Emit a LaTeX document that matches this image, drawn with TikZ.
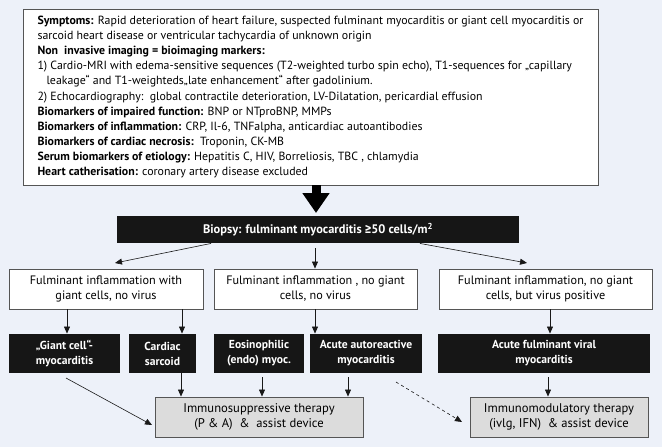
\documentclass[tikz,border=0pt]{standalone}
\usepackage{fontspec}
\setmainfont{PT Sans}
\newfontfamily\symf{Fira Sans}
\usetikzlibrary{arrows.meta}
\definecolor{bg}{RGB}{237,241,249}
\definecolor{bord}{RGB}{85,85,85}
\definecolor{boxgray}{RGB}{220,220,220}
\definecolor{nearblack}{RGB}{22,22,22}
\begin{document}
\begin{tikzpicture}[x=1pt,y=-1pt,
  base/.style={rectangle, inner sep=0pt, align=center, line width=0.9pt},
  info/.style={base, draw=bord, fill=white, font=\fontsize{12.2}{15}\selectfont},
  blk/.style={base, fill=nearblack, text=white, font=\fontsize{11.6}{15}\selectfont\bfseries},
  gbox/.style={base, draw=bord, fill=boxgray, font=\fontsize{12.6}{15.5}\selectfont},
  arr/.style={-{Triangle[length=7pt,width=6pt]}, line width=0.6pt, draw=black!90},
  darr/.style={arr, dash pattern=on 3pt off 3pt},
  bigarr/.style={line width=9pt, -{Triangle[length=20pt,width=26pt]}, draw=black}
]
\fill[bg] (0,0) rectangle (662,447);
\useasboundingbox (0,0) rectangle (662,447);

\node[info, minimum width=575, minimum height=176, align=left, font=\fontsize{11.85}{15.1}\selectfont] (top) at (310.5,97) {%
\textbf{Symptoms:} Rapid deterioration of heart failure, suspected fulminant myocarditis or giant cell myocarditis or\\
sarcoid heart disease or ventricular tachycardia of unknown origin\\
\textbf{Non\ \ invasive imaging = bioimaging markers:}\\
1) Cardio-MRI with edema-sensitive sequences (T2-weighted turbo spin echo), T1-sequences for „capillary\\
\hspace*{9pt}leakage“ and T1-weighteds„late enhancement“ after gadolinium.\\
2) Echocardiography:\ \ global contractile deterioration, LV-Dilatation, pericardial effusion\\
\textbf{Biomarkers of impaired function:} BNP or NTproBNP, MMPs\\
\textbf{Biomarkers of inflammation:} CRP, Il-6, TNFalpha, anticardiac autoantibodies\\
\textbf{Biomarkers of cardiac necrosis:}\ \ Troponin, CK-MB\\
\textbf{Serum biomarkers of etiology:} Hepatitis C, HIV, Borreliosis, TBC , chlamydia\\
\textbf{Heart catherisation:} coronary artery disease excluded};

\node[blk, minimum width=402, minimum height=27, font=\fontsize{12.4}{15}\selectfont\bfseries] (bio) at (318,229.5) {Biopsy: fulminant myocarditis {\symf\bfseries ≥}50 cells/m\textsuperscript{2}};

\node[info, minimum width=194, minimum height=40] (r2a) at (106,289) {Fulminant inflammation with\\giant cells, no virus};
\node[info, minimum width=203, minimum height=40] (r2b) at (315.5,289) {Fulminant inflammation , no giant\\cells, no virus};
\node[info, minimum width=213, minimum height=40] (r2c) at (545.5,289) {Fulminant inflammation, no giant\\cells, but virus positive};

\node[blk, minimum width=111, minimum height=39] (r3a) at (64.5,353.5) {„Giant cell“-\\myocarditis};
\node[blk, minimum width=67, minimum height=39] (r3b) at (162.5,353.5) {Cardiac\\sarcoid};
\node[blk, minimum width=90, minimum height=39] (r3c) at (259,353.5) {Eosinophilic\\(endo) myoc.};
\node[blk, minimum width=112, minimum height=39] (r3d) at (366,353.5) {Acute autoreactive\\myocarditis};
\node[blk, minimum width=212, minimum height=39] (r3e) at (544,353.5) {Acute fulminant viral\\myocarditis};

\node[gbox, minimum width=208, minimum height=40] (r4a) at (259,417) {Immunosuppressive therapy\\(P \& A)\ \ \&\ \ assist device};
\node[gbox, minimum width=178, minimum height=40] (r4b) at (559,417) {Immunomodulatory therapy\\(ivlg, IFN)\ \ \& assist device};

% big arrow
\coordinate (bigtip) at (316,213);
\draw[bigarr] (top.south -| bigtip) -- (bigtip);

% biopsy to row 2
\coordinate (t1) at (115,263);
\coordinate (t3) at (527,263);
\draw[arr] (bio.south -| 211,0) -- (t1);
\draw[arr] (315,248) -- (r2b.north -| 315,0);
\draw[arr] (bio.south -| 420,0) -- (t3);

% row 2 to row 3
\draw[arr] (r2a.south -| 67,0) -- (r3a.north -| 67,0);
\draw[arr] (r2a.south -| 182,0) -- (r3b.north -| 182,0);
\draw[arr] (r2b.south -| 315,0) -- (r3d.north -| 315,0);
\draw[arr] (r2c.south -| 550,0) -- (r3e.north -| 550,0);

% row 3 to row 4
\coordinate (g1) at (66,378);
\coordinate (g2) at (152,425);
\draw[arr] (g1) -- (g2);
\draw[arr] (r3b.south -| 181,0) -- (r4a.north -| 181,0);
\draw[arr] (262,377) -- (r4a.north -| 262,0);
\draw[arr] (348,377) -- (r4a.north -| 348,0);
\coordinate (d1) at (396,382);
\coordinate (d2) at (462,422);
\draw[darr] (d1) -- (d2);
\draw[arr] (548,377) -- (r4b.north -| 548,0);
\end{tikzpicture}
\end{document}
